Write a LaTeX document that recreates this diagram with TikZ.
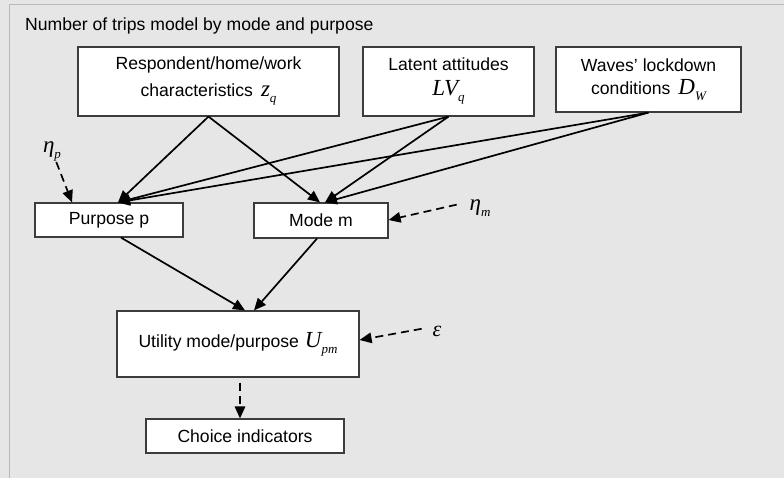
\documentclass[tikz,border=0pt]{standalone}
\usepackage{fontspec}
\setmainfont{Liberation Sans}
\newfontfamily\eqfont{Liberation Serif}
\usetikzlibrary{arrows.meta,positioning}
\definecolor{panelgray}{RGB}{230,230,230}
\definecolor{panelline}{RGB}{185,185,185}
\definecolor{boxline}{RGB}{60,60,60}

% variable with a lowered subscript, set like an equation object
\newcommand{\eqvar}[2]{{\eqfont\itshape\fontsize{23}{23}\selectfont #1}\raisebox{-6pt}{\eqfont\itshape\fontsize{13}{13}\selectfont #2}}

\begin{document}
\begin{tikzpicture}[x=1pt,y=-1pt,
    box/.style={draw=boxline, fill=white, line width=1.2pt, inner sep=0pt, align=center,
      font=\fontsize{17.6}{27}\selectfont},
    arr/.style={-{Triangle[length=12pt,width=10.5pt]}, line width=1.7pt},
    dasharr/.style={arr, dash pattern=on 8pt off 5pt}]
    \useasboundingbox (0,0) rectangle (784,478);

    % Panel
    \fill[panelgray] (0,0) rectangle (784,478);
    \draw[panelline, line width=1pt] (9.5,478) -- (9.5,4.5) -- (784,4.5);
    \node[anchor=base west, inner sep=0pt, font=\fontsize{17.6}{20}\selectfont] (title) at (25,31)
      {Number of trips model by mode and purpose};

    % Explanatory variables
    \node[box, minimum width=261pt, minimum height=69pt] (resp) at (208.5,81.5)
      {Respondent/home/work\\characteristics\hspace{8pt}\eqvar{z}{q}};
    \node[box, minimum width=171pt, minimum height=69pt] (latent) at (448.5,81.5)
      {Latent attitudes\\[-2pt]\eqvar{LV}{q}};
    \node[box, minimum width=185pt, minimum height=65pt] (waves) at (648.5,79.5)
      {Waves' lockdown\\[-4pt]conditions\hspace{8pt}\eqvar{D}{W}};

    % Choice dimensions
    \node[box, minimum width=148pt, minimum height=34pt] (purpose) at (109,220) {Purpose p};
    \node[box, minimum width=134pt, minimum height=35pt] (mode) at (321,220.5) {Mode m};
    \node[box, minimum width=242pt, minimum height=66pt] (utility) at (238,344)
      {Utility mode/purpose\hspace{6pt}\eqvar{U}{pm}};
    \node[box, minimum width=198pt, minimum height=34pt] (choice) at (245,436) {Choice indicators};

    % Error terms
    \node[inner sep=1pt] (etap) at (52,151) {\eqvar{η}{p}};
    \node[inner sep=1pt] (etam) at (480,208) {\eqvar{η}{m}};
    \node[inner sep=1pt] (eps) at (437,331) {{\eqfont\itshape\fontsize{22}{22}\selectfont ε}};

    % Structural links
    \draw[arr] (resp.south) -- ([xshift=9pt]purpose.north);
    \draw[arr] (resp.south) -- ([xshift=-1pt]mode.north);
    \draw[arr] (latent.south) -- ([xshift=9pt]purpose.north);
    \draw[arr] (latent.south) -- ([xshift=4pt]mode.north);
    \draw[arr] (waves.south) -- ([xshift=9pt]purpose.north);
    \draw[arr] (waves.south) -- ([xshift=4pt]mode.north);
    \draw[arr] ([xshift=12pt]purpose.south) -- ([xshift=7pt]utility.north);
    \draw[arr] ([xshift=-4pt]mode.south) -- ([xshift=16pt]utility.north);

    % Random components and measurement
    \draw[dasharr] (etap) -- ([xshift=-37pt]purpose.north);
    \draw[dasharr, shorten <=12pt] ([yshift=6pt]etam.west) -- ([yshift=0.5pt]mode.east);
    \draw[dasharr, shorten <=10pt] ([yshift=4pt]eps.west) -- ([yshift=4pt]utility.east);
    \draw[dasharr, shorten <=5pt] ([xshift=2pt]utility.south) -- ([xshift=-5pt]choice.north);
\end{tikzpicture}
\end{document}
